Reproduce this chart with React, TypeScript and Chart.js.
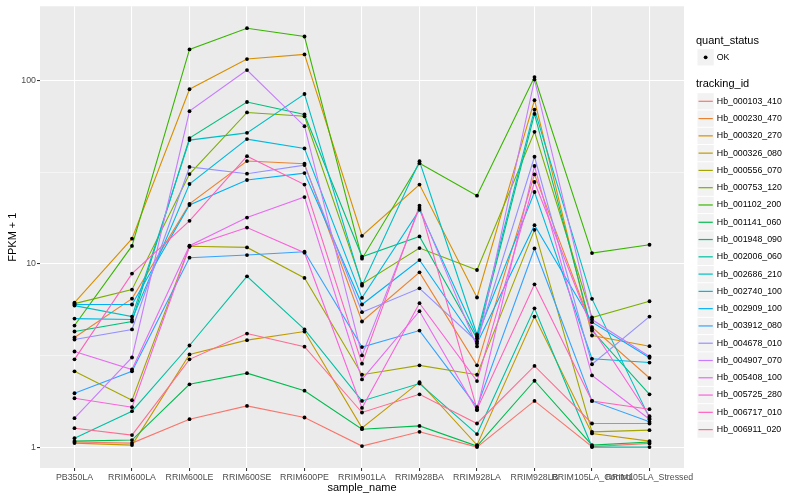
import React, { useEffect, useRef } from "react";
import { Chart, registerables } from "chart.js";

Chart.register(...registerables);

// ---------- data ----------
const categories = [
  "PB350LA",
  "RRIM600LA",
  "RRIM600LE",
  "RRIM600SE",
  "RRIM600PE",
  "RRIM901LA",
  "RRIM928BA",
  "RRIM928LA",
  "RRIM928LB",
  "RRIM105LA_Control",
  "RRIM105LA_Stressed",
];

const trackingIds = [
  "Hb_000103_410",
  "Hb_000230_470",
  "Hb_000320_270",
  "Hb_000326_080",
  "Hb_000556_070",
  "Hb_000753_120",
  "Hb_001102_200",
  "Hb_001141_060",
  "Hb_001948_090",
  "Hb_002006_060",
  "Hb_002686_210",
  "Hb_002740_100",
  "Hb_002909_100",
  "Hb_003912_080",
  "Hb_004678_010",
  "Hb_004907_070",
  "Hb_005408_100",
  "Hb_005725_280",
  "Hb_006717_010",
  "Hb_006911_020",
];

const seriesColors = [
  "#F8766D", "#EA8331", "#D89000", "#C09B00", "#A3A500",
  "#7CAE00", "#39B600", "#00BB4E", "#00BF7D", "#00C1A3",
  "#00BFC4", "#00BAE0", "#00B0F6", "#35A2FF", "#9590FF",
  "#C77CFF", "#E76BF3", "#FA62DB", "#FF62BC", "#FF6C91",
];

const hb_000103_410 = [1.065, 1.051, 1.419, 1.677, 1.45, 1.013, 1.211, 1.0, 1.785, 1.006, 1.047];
const hb_000230_470 = [3.96, 6.45, 21.2, 36.3, 35.1, 4.84, 8.97, 2.79, 30.7, 4.51, 2.38];
const hb_000320_270 = [6.14, 13.7, 89.4, 130.6, 138.5, 14.2, 27.0, 6.54, 77.9, 4.06, 3.55];
const hb_000326_080 = [1.051, 1.025, 3.2, 3.83, 4.27, 1.273, 2.26, 1.025, 5.15, 1.187, 1.078];
const hb_000556_070 = [2.59, 1.8, 12.45, 12.27, 8.36, 2.48, 2.79, 2.48, 15.3, 1.211, 1.237];
const hb_000753_120 = [6.06, 7.22, 30.8, 66.8, 63.7, 7.76, 12.17, 9.24, 52.4, 5.09, 6.24];
const hb_001102_200 = [4.6, 12.5, 147.4, 192.4, 173.4, 10.65, 35.3, 23.5, 104.2, 11.43, 12.69];
const hb_001141_060 = [1.078, 1.092, 2.2, 2.53, 2.03, 1.252, 1.305, 1.013, 2.3, 1.025, 1.065];
const hb_001948_090 = [4.27, 4.84, 48.4, 76.2, 65.1, 10.92, 14.08, 3.91, 65.6, 4.32, 1.94];
const hb_002006_060 = [1.119, 1.569, 3.58, 8.53, 4.38, 1.785, 2.22, 1.177, 5.71, 1.0, 1.0];
const hb_002686_210 = [5.91, 5.15, 47.2, 51.7, 84.2, 7.59, 36.2, 4.11, 69.3, 6.43, 1.443];
const hb_002740_100 = [5.02, 4.96, 27.2, 47.8, 42.5, 6.51, 19.66, 4.01, 24.6, 3.03, 2.89];
const hb_002909_100 = [5.99, 5.99, 20.9, 28.6, 31.2, 5.99, 10.47, 3.67, 16.23, 4.8, 3.07];
const hb_003912_080 = [1.966, 2.59, 10.78, 11.15, 11.62, 3.51, 4.32, 1.65, 12.11, 1.785, 1.373];
const hb_004678_010 = [3.86, 4.38, 33.7, 30.96, 34.5, 5.44, 7.34, 3.77, 38.3, 2.83, 5.15];
const hb_004907_070 = [1.438, 3.08, 67.9, 113.8, 56.2, 3.16, 20.15, 3.54, 100.9, 4.96, 3.12];
const hb_005408_100 = [3.32, 2.65, 12.53, 17.85, 23.1, 2.34, 5.51, 1.589, 34.1, 2.46, 1.419];
const hb_005725_280 = [1.846, 1.65, 12.37, 15.75, 11.48, 1.635, 6.09, 2.29, 27.9, 4.43, 1.474];
const hb_006717_010 = [3.01, 8.83, 17.13, 38.6, 27.0, 2.85, 20.7, 1.609, 7.72, 1.785, 1.609];
const hb_006911_020 = [1.268, 1.162, 3.01, 4.16, 3.53, 1.544, 1.94, 1.345, 2.77, 1.345, 1.345];

const seriesValues = [
  hb_000103_410, hb_000230_470, hb_000320_270, hb_000326_080, hb_000556_070,
  hb_000753_120, hb_001102_200, hb_001141_060, hb_001948_090, hb_002006_060,
  hb_002686_210, hb_002740_100, hb_002909_100, hb_003912_080, hb_004678_010,
  hb_004907_070, hb_005408_100, hb_005725_280, hb_006717_010, hb_006911_020,
];

const yMajorTicks = [1, 10, 100];
const yMinorTicks = [Math.sqrt(10), Math.sqrt(1000)];

const FONT = "'Liberation Sans', Arial, Helvetica, sans-serif";

// ---------- plugins ----------
const panelBackground = {
  id: "panelBackground",
  beforeDraw(chart: any) {
    const { ctx, chartArea } = chart;
    ctx.save();
    ctx.fillStyle = "#EBEBEB";
    ctx.fillRect(chartArea.left, chartArea.top, chartArea.right - chartArea.left, chartArea.bottom - chartArea.top);
    ctx.restore();
  },
};

const ggLegend = {
  id: "ggLegend",
  afterDraw(chart: any) {
    const { ctx, chartArea } = chart;
    const x0 = chartArea.right + 12;
    const keyW = 17.28;
    const keyX = x0 + 1;
    const textX = keyX + keyW + 2.5;
    ctx.save();
    ctx.textBaseline = "middle";
    ctx.textAlign = "left";
    // quant_status
    ctx.fillStyle = "#000";
    ctx.font = `11px ${FONT}`;
    ctx.fillText("quant_status", x0, 40.7);
    const okY = 57.3;
    ctx.fillStyle = "#F2F2F2";
    ctx.fillRect(keyX + 0.5, okY - keyW / 2 + 0.5, keyW - 1, keyW - 1);
    ctx.fillStyle = "#000";
    ctx.beginPath();
    ctx.arc(keyX + keyW / 2, okY, 1.9, 0, Math.PI * 2);
    ctx.fill();
    ctx.font = `8.8px ${FONT}`;
    ctx.fillText("OK", textX, okY);
    // tracking_id
    ctx.font = `11px ${FONT}`;
    ctx.fillText("tracking_id", x0, 84.3);
    const firstY = 101.3;
    trackingIds.forEach((id, i) => {
      const cy = firstY + i * keyW;
      ctx.fillStyle = "#F2F2F2";
      ctx.fillRect(keyX + 0.5, cy - keyW / 2 + 0.5, keyW - 1, keyW - 1);
      ctx.strokeStyle = seriesColors[i];
      ctx.lineWidth = 1.2;
      ctx.beginPath();
      ctx.moveTo(keyX + 1.5, cy);
      ctx.lineTo(keyX + keyW - 1.5, cy);
      ctx.stroke();
      ctx.fillStyle = "#000";
      ctx.font = `8.8px ${FONT}`;
      ctx.fillText(id, textX, cy);
    });
    ctx.restore();
  },
};

export default function App() {
  const canvasRef = useRef<HTMLCanvasElement | null>(null);

  useEffect(() => {
    if (!canvasRef.current) return;

    const lineSets = seriesValues.map((vals, idx) => ({
      label: trackingIds[idx],
      data: vals.map((v, i) => ({ x: i, y: v })),
      borderColor: seriesColors[idx],
      backgroundColor: seriesColors[idx],
      borderWidth: 1.1,
      pointRadius: 0,
      tension: 0,
      fill: false,
      order: 100 - idx,
    }));
    const pointSets = seriesValues.map((vals, idx) => ({
      label: trackingIds[idx] + " OK",
      data: vals.map((v, i) => ({ x: i, y: v })),
      showLine: false,
      pointRadius: 1.9,
      pointBackgroundColor: "#000",
      pointBorderWidth: 0,
      borderColor: "#000",
      order: 0,
    }));

    const chart = new Chart(canvasRef.current, {
      type: "line",
      data: { datasets: [...lineSets, ...pointSets] as any },
      plugins: [panelBackground, ggLegend],
      options: {
        animation: false,
        responsive: true,
        maintainAspectRatio: false,
        events: [],
        layout: { padding: { top: 5, right: 116, left: 0, bottom: 0 } },
        plugins: {
          legend: { display: false },
          tooltip: { enabled: false },
          title: { display: false },
        },
        scales: {
          x: {
            type: "linear",
            min: -0.6,
            max: 10.6,
            afterBuildTicks: (scale: any) => {
              scale.ticks = categories.map((_, i) => ({ value: i }));
            },
            afterFit: (scale: any) => {
              scale.height = 32;
            },
            ticks: {
              autoSkip: false,
              maxRotation: 0,
              minRotation: 0,
              padding: 1.5,
              color: "#4D4D4D",
              font: { family: FONT, size: 8.8 },
              callback: (v: any) => categories[Math.round(Number(v))] ?? "",
            },
            grid: {
              color: "#FFFFFF",
              lineWidth: 1.07,
              tickLength: 3,
              tickColor: "#333333",
              tickWidth: 1.07,
            },
            border: { display: false },
            title: {
              display: true,
              text: "sample_name",
              color: "#000",
              font: { family: FONT, size: 11 },
              padding: { top: 0, bottom: 5 },
            },
          },
          y: {
            type: "logarithmic",
            min: 0.769,
            max: 253.4,
            afterBuildTicks: (scale: any) => {
              const all = [...yMajorTicks, ...yMinorTicks].sort((a, b) => a - b);
              scale.ticks = all.map((v) => ({ value: v, major: yMajorTicks.includes(v) }));
            },
            afterFit: (scale: any) => {
              scale.width = 40;
            },
            ticks: {
              autoSkip: false,
              padding: 1,
              color: "#4D4D4D",
              font: { family: FONT, size: 8.8 },
              callback: (v: any) => (yMajorTicks.includes(Number(v)) ? String(v) : ""),
            },
            grid: {
              color: "#FFFFFF",
              lineWidth: (c: any) => (c.tick && yMajorTicks.includes(c.tick.value) ? 1.07 : 0.53),
              tickLength: 3,
              tickColor: (c: any) =>
                c.tick && yMajorTicks.includes(c.tick.value) ? "#333333" : "rgba(0,0,0,0)",
              tickWidth: 1.07,
            },
            border: { display: false },
            title: {
              display: true,
              text: "FPKM + 1",
              color: "#000",
              font: { family: FONT, size: 11 },
              padding: { top: 6, bottom: 0 },
            },
          },
        },
      } as any,
    });

    return () => chart.destroy();
  }, []);

  return (
    <div style={{ position: "absolute", left: 0, top: 0, width: 800, height: 500, background: "#FFFFFF" }}>
      <canvas ref={canvasRef} />
    </div>
  );
}
